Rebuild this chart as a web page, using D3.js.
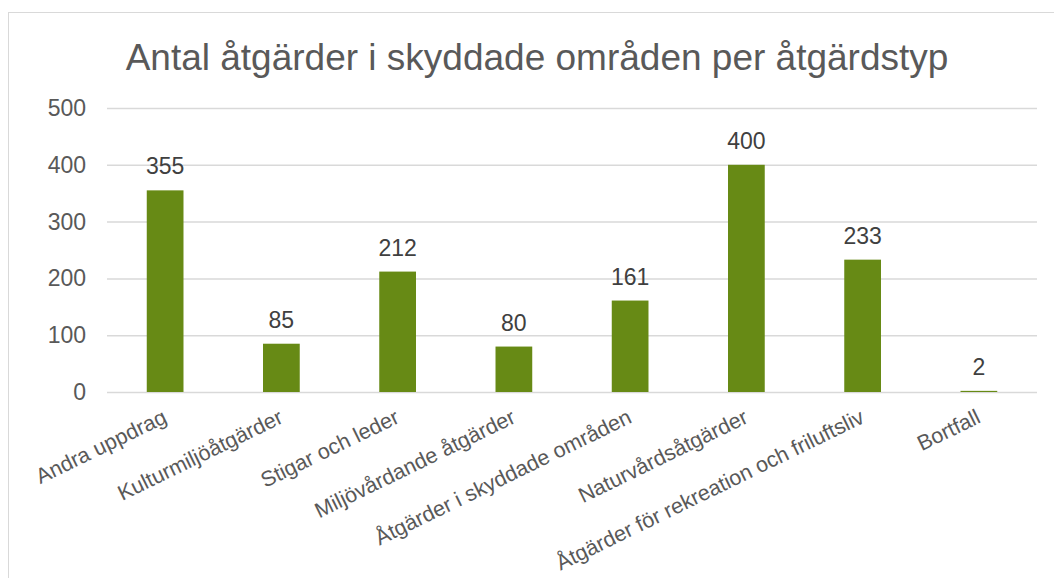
<!DOCTYPE html>
<meta charset="utf-8">
<style>
  body { margin: 0; background: #fff; }
  text { font-family: "Liberation Sans", Arial, sans-serif; }
  .grid line { stroke: #d9d9d9; stroke-width: 1.5px; }
  .grid path { display: none; }
</style>
<svg width="1054" height="578"></svg>
<script src="https://d3js.org/d3.v7.min.js"></script>
<script>

var categories = ["Andra uppdrag", "Kulturmiljöåtgärder", "Stigar och leder", "Miljövårdande åtgärder",
                  "Åtgärder i skyddade områden", "Naturvårdsåtgärder", "Åtgärder för rekreation och friluftsliv", "Bortfall"];
var values = [355, 85, 212, 80, 161, 400, 233, 2];
var yTicks = [0, 100, 200, 300, 400, 500];
var title = "Antal åtgärder i skyddade områden per åtgärdstyp";

var svg = d3.select("svg"),
    margin = {top: 108, right: 17, bottom: 186, left: 107},
    width = +svg.attr("width") - margin.left - margin.right,
    height = +svg.attr("height") - margin.top - margin.bottom;

// chart border
svg.append("rect")
    .attr("x", 8.5).attr("y", 12.5)
    .attr("width", 1100).attr("height", 600)
    .attr("fill", "none")
    .attr("stroke", "#d9d9d9");

svg.append("text")
    .attr("x", 537).attr("y", 70)
    .attr("text-anchor", "middle")
    .attr("font-size", "37px")
    .attr("fill", "#595959")
    .text(title);

var x = d3.scaleBand().domain(categories).range([0, width]).paddingInner(0.684).paddingOuter(0.342),
    y = d3.scaleLinear().domain([0, 500]).range([height, 0]);

var g = svg.append("g")
    .attr("transform", "translate(" + margin.left + "," + margin.top + ")");

g.append("g")
    .attr("class", "grid")
    .call(d3.axisLeft(y).tickValues(yTicks).tickSize(-width).tickFormat(""));

g.selectAll(".ylab")
    .data(yTicks)
  .enter().append("text")
    .attr("x", -21)
    .attr("y", function(d) { return y(d); })
    .attr("dy", "0.35em")
    .attr("text-anchor", "end")
    .attr("font-size", "23px")
    .attr("fill", "#595959")
    .text(function(d) { return d; });

g.selectAll(".bar")
    .data(values)
  .enter().append("rect")
    .attr("x", function(d, i) { return x(categories[i]); })
    .attr("y", function(d) { return y(d); })
    .attr("width", x.bandwidth())
    .attr("height", function(d) { return height - y(d); })
    .attr("fill", "#678a15");

g.selectAll(".val")
    .data(values)
  .enter().append("text")
    .attr("x", function(d, i) { return x(categories[i]) + x.bandwidth() / 2; })
    .attr("y", function(d) { return y(d) - 16; })
    .attr("text-anchor", "middle")
    .attr("font-size", "23px")
    .attr("fill", "#404040")
    .text(function(d) { return d; });

g.selectAll(".cat")
    .data(categories)
  .enter().append("text")
    .attr("text-anchor", "end")
    .attr("font-size", "21.5px")
    .attr("fill", "#595959")
    .attr("transform", function(d) {
      return "translate(" + (x(d) + x.bandwidth() / 2 + 3) + "," + (height + 30) + ") rotate(-26)";
    })
    .text(function(d) { return d; });

</script>
